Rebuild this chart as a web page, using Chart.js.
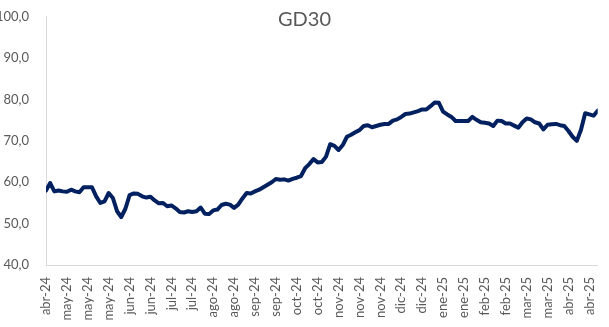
<!DOCTYPE html>
<html lang="es">
<head>
<meta charset="UTF-8">
<title>GD30</title>
<script src="https://cdn.jsdelivr.net/npm/chart.js"></script>
<style>
  body { margin: 0; background: #fff; }
  .wrap { width: 609px; height: 327px; position: relative; }
</style>
</head>
<body>
<div class="wrap"><canvas id="gd30Chart"></canvas></div>
<script>
  const titulo = 'GD30';

  // una etiqueta del eje cada PASO observaciones
  const PASO = 5;
  const etiquetas = [
    'abr-24', 'may-24', 'may-24', 'may-24', 'jun-24', 'jun-24', 'jul-24', 'jul-24',
    'ago-24', 'ago-24', 'sep-24', 'sep-24', 'oct-24', 'oct-24', 'nov-24', 'nov-24',
    'nov-24', 'dic-24', 'dic-24', 'ene-25', 'ene-25', 'feb-25', 'feb-25', 'mar-25',
    'mar-25', 'abr-25', 'abr-25'
  ];

  // cotización GD30 (cada 2 ruedas aprox.)
  const precios = [
    58.0, 59.8, 57.8, 58.0, 57.8, 57.7, 58.2, 57.8, 57.6, 58.8,
    58.8, 58.8, 56.6, 55.0, 55.4, 57.4, 56.2, 53.0, 51.6, 53.6,
    56.9, 57.3, 57.2, 56.6, 56.3, 56.5, 55.6, 54.9, 55.0, 54.2,
    54.4, 53.7, 52.8, 52.7, 53.0, 52.8, 53.0, 53.9, 52.4, 52.3,
    53.2, 53.4, 54.5, 54.8, 54.6, 53.8, 54.6, 56.1, 57.4, 57.3,
    57.8, 58.2, 58.8, 59.4, 60.0, 60.8, 60.6, 60.7, 60.4, 60.8,
    61.1, 61.5, 63.4, 64.4, 65.6, 64.8, 64.9, 66.2, 69.2, 68.8,
    67.8, 69.0, 71.0, 71.5, 72.1, 72.6, 73.6, 73.8, 73.3, 73.6,
    73.9, 74.1, 74.1, 74.9, 75.2, 75.8, 76.5, 76.6, 76.9, 77.2,
    77.6, 77.6, 78.4, 79.3, 79.2, 77.1, 76.4, 75.8, 74.8, 74.8,
    74.8, 74.8, 75.8, 75.1, 74.5, 74.4, 74.2, 73.6, 74.9, 74.8,
    74.2, 74.2, 73.7, 73.2, 74.5, 75.4, 75.2, 74.5, 74.2, 72.8,
    73.9, 74.0, 74.1, 73.8, 73.6, 72.4, 71.0, 70.0, 72.7, 76.7,
    76.4, 76.1, 77.3
  ];

  const ejeY = { min: 40, max: 100, paso: 10 };

  const puntos = precios.map((v, i) => ({ x: i, y: v }));

  // título dibujado encima del área del gráfico, como en Excel
  const tituloPlugin = {
    id: 'tituloGD30',
    afterDraw(chart) {
      const ctx = chart.ctx;
      ctx.save();
      ctx.font = '20px Lato';
      ctx.fillStyle = '#595959';
      ctx.textAlign = 'center';
      ctx.textBaseline = 'middle';
      ctx.fillText(titulo, chart.width / 2, 20);
      ctx.restore();
    }
  };

  Chart.defaults.font.family = 'Lato';
  Chart.defaults.font.size = 13;
  Chart.defaults.color = '#595959';

  new Chart(document.getElementById('gd30Chart'), {
    type: 'line',
    data: {
      datasets: [{
        label: titulo,
        data: puntos,
        borderColor: '#002060',
        borderWidth: 4,
        borderJoinStyle: 'round',
        borderCapStyle: 'round',
        pointRadius: 0,
        tension: 0,
        fill: false
      }]
    },
    options: {
      responsive: true,
      maintainAspectRatio: false,
      animation: false,
      layout: { padding: { top: 15, right: 3, bottom: 0, left: 0 } },
      plugins: {
        legend: { display: false },
        title: { display: false },
        tooltip: { enabled: false }
      },
      scales: {
        x: {
          type: 'linear',
          min: 0,
          max: precios.length - 1,
          grid: { display: false },
          border: { display: true, color: '#d9d9d9', width: 1 },
          afterFit: s => { s.height = 62; },
          ticks: {
            stepSize: PASO,
            autoSkip: false,
            includeBounds: false,
            maxRotation: 90,
            minRotation: 90,
            padding: 4,
            callback: v => etiquetas[v / PASO] ?? ''
          }
        },
        y: {
          min: ejeY.min,
          max: ejeY.max,
          grid: { display: false },
          border: { display: true, color: '#d9d9d9', width: 1 },
          afterFit: s => { s.width = 46; },
          ticks: {
            stepSize: ejeY.paso,
            padding: 9,
            callback: v => v.toFixed(1).replace('.', ',')
          }
        }
      }
    },
    plugins: [tituloPlugin]
  });
</script>
</body>
</html>
